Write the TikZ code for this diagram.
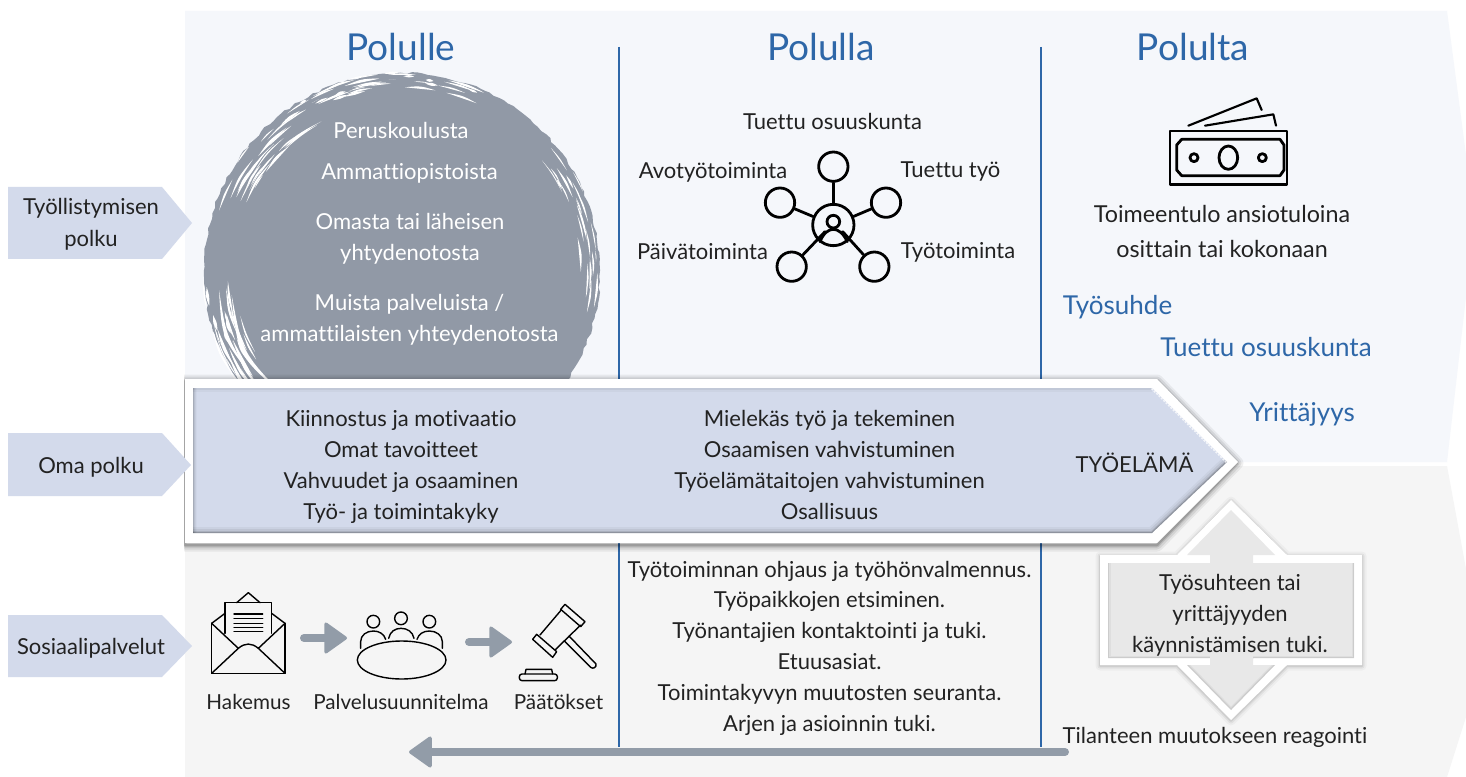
\documentclass[tikz,border=0pt]{standalone}
\usepackage{fontspec}
\setmainfont{Lato}[Ligatures=NoCommon]
\usetikzlibrary{arrows.meta,calc,decorations.pathmorphing,shadings}
\definecolor{bandblue}{HTML}{F5F7FB}
\definecolor{bandgray}{HTML}{F5F5F5}
\definecolor{tagblue}{HTML}{D3DAEB}
\definecolor{pathblue}{HTML}{2E67A8}
\definecolor{brush}{HTML}{9199A6}
\definecolor{arrowgray}{HTML}{929CA8}
\definecolor{ink}{HTML}{222222}
\newcommand{\tsize}[1]{\fontsize{#1}{23.1pt}\selectfont}
\newcommand{\lens}[4]{% radius, from angle, to angle, half thickness
  \pgfmathsetmacro{\mida}{(#2+#3)/2}
  \pgfmathsetmacro{\rp}{(#1+#4)/cos((#3-#2)/2)}
  \pgfmathsetmacro{\rm}{(#1-#4)/cos((#3-#2)/2)}
  \fill[white] ({402+#1*cos(#2)},{271-#1*sin(#2)}) .. controls ({402+\rp*cos(\mida)},{271-\rp*sin(\mida)}) .. ({402+#1*cos(#3)},{271-#1*sin(#3)}) .. controls ({402+\rm*cos(\mida)},{271-\rm*sin(\mida)}) .. cycle;}
\tikzset{
  txt/.style={text=ink,font=\tsize{16.5},align=center,inner sep=0pt},
  smalltxt/.style={text=ink,font=\tsize{15.5},align=center,inner sep=0pt},
  head/.style={text=pathblue,font=\tsize{27.8},inner sep=0pt},
  bluetxt/.style={text=pathblue,font=\tsize{19.5},inner sep=0pt},
  bigtxt/.style={text=ink,font=\fontsize{17.5}{26.2pt}\selectfont,align=center,inner sep=0pt},
  whitetxt/.style={text=white,font=\tsize{16.5},align=center,inner sep=0pt},
  flow/.style={draw=arrowgray,line width=6pt,line cap=round,
    -{Triangle[length=18pt,width=25pt,round,line width=2.5pt]}},
  icon/.style={draw=black,line width=1.05pt,line join=round,line cap=round},
  iconb/.style={draw=black,line width=2.1pt,line join=round,line cap=round},
  sat/.style={circle,draw=black,line width=2.1pt,minimum size=22pt,inner sep=0pt},
  tag/.style={fill=tagblue},
  vline/.style={draw=pathblue,line width=1.5pt},
  third/.style={x=0.25pt,y=-0.25pt},
}
\begin{document}
\begin{tikzpicture}[x=0.75pt,y=-0.75pt]
\useasboundingbox (0,0) rectangle (1466,777);
\fill[white] (0,0) rectangle (1466,777);
% bands
\fill[bandblue] (185,11)--(1447,11)--(1466,155)--(1466,297)--(1447,462)--(185,462)--cycle;
\fill[bandgray] (185,466)--(1447,466)--(1466,569)--(1466,717)--(1447,777)--(185,777)--cycle;
% columns
\coordinate (l1t) at (619,47); \coordinate (l1b) at (619,747);
\coordinate (l2t) at (1041,47); \coordinate (l2b) at (1041,747);
\draw[vline] (l1t)--(l1b);
\draw[vline] (l2t)--(l2b);
% brush disc
\pgfmathsetseed{42}
\fill[brush,decorate,decoration={random steps,segment length=4pt,amplitude=0.9pt}] (402,271) circle[radius=198];
% top flecks and tapered white strokes
\foreach \i in {1,...,34}{
  \pgfmathsetmacro{\ra}{65+rnd*55}\pgfmathsetmacro{\rr}{183+rnd*16}\pgfmathsetmacro{\rs}{2+rnd*9}\pgfmathsetmacro{\rw}{0.6+rnd*1.4}
  \pgfmathsetmacro{\rb}{\ra+\rs}
  \lens{\rr}{\ra}{\rb}{\rw}}
\foreach \i in {1,...,30}{
  \pgfmathsetmacro{\ra}{118+rnd*34}\pgfmathsetmacro{\rr}{168+rnd*30}\pgfmathsetmacro{\rs}{4+rnd*12}\pgfmathsetmacro{\rw}{0.5+rnd*1.3}
  \pgfmathsetmacro{\rb}{\ra+\rs}
  \lens{\rr}{\ra}{\rb}{\rw}}
\foreach \i in {1,...,26}{
  \pgfmathsetmacro{\ra}{-18+rnd*50}\pgfmathsetmacro{\rr}{178+rnd*20}\pgfmathsetmacro{\rs}{3+rnd*9}\pgfmathsetmacro{\rw}{0.5+rnd*1.1}
  \pgfmathsetmacro{\rb}{\ra+\rs}
  \lens{\rr}{\ra}{\rb}{\rw}}
\foreach \i in {1,...,30}{
  \pgfmathsetmacro{\ra}{182+rnd*32}\pgfmathsetmacro{\rr}{165+rnd*34}\pgfmathsetmacro{\rs}{4+rnd*12}\pgfmathsetmacro{\rw}{0.6+rnd*1.6}
  \pgfmathsetmacro{\rb}{\ra+\rs}
  \lens{\rr}{\ra}{\rb}{\rw}}
\lens{172}{188}{226}{2.6}
\lens{184}{186}{214}{2.2}
\lens{193}{205}{232}{3}
% brush text
\node[whitetxt] (t1) at (401,130) {Peruskoulusta};
\node[whitetxt] (t2) at (409.5,173) {Ammattiopistoista};
\node[whitetxt] (t3) at (410,239) {Omasta tai läheisen\\yhtydenotosta};
\node[whitetxt] (t4) at (409.5,320) {Muista palveluista /\\ammattilaisten yhteydenotosta};
% headings
\node[head] (h1) at (401,47.5) {Polulle};
\node[head] (h2) at (821,47.5) {Polulla};
\node[head] (h3) at (1193,47.5) {Polulta};
% main arrow shadow
\begin{scope}
\clip (184,300) rectangle (1300,600);
\foreach \w/\o in {13/.06,9/.08,5/.11,2.5/.16}
  \draw[black,opacity=\o,line width=\w*0.75pt,line join=round] (185,381)--(1157,381)--(1237,463)--(1157,545)--(185,545)--cycle;
\end{scope}
\fill[white] (185,379)--(1157,379)--(1238,462)--(1157,543)--(185,543)--cycle;
\fill[tagblue] (193,388)--(1152,388)--(1227,462)--(1152,533)--(193,533)--cycle;
\begin{scope}
\clip (193,388)--(1152,388)--(1227,462)--(1152,533)--(193,533)--cycle;
\foreach \w/\o in {8/.02,5/.04,3/.06,1.5/.10}
  \draw[black,opacity=\o,line width=\w*0.75pt] (193,388)--(193,533);
\foreach \w/\o in {12/.04,8/.06,4/.10,2/.16}
  \draw[black,opacity=\o,line width=\w*0.75pt] (193,533)--(1152,533)--(1227,462);
\foreach \w/\o in {8/.03,3/.05}
  \draw[black,opacity=\o,line width=\w*0.75pt] (193,388)--(1152,388);
\draw[white,opacity=.75,line width=2.2pt,dash pattern=on 1.5pt off 1pt] (1152,388)--(1227,462);
\end{scope}
% main arrow text
\node[txt] (a1) at (401,467) {Kiinnostus ja motivaatio\\Omat tavoitteet\\Vahvuudet ja osaaminen\\Työ- ja toimintakyky};
\node[txt] (a2) at (829.5,465) {Mielekäs työ ja tekeminen\\Osaamisen vahvistuminen\\Työelämätaitojen vahvistuminen\\Osallisuus};
\node[txt] (a3) at (1134.5,463) {TYÖELÄMÄ};
% left tags
\fill[tag] (8,187)--(162,187)--(192,223)--(162,259)--(8,259)--cycle;
\fill[tag] (8,433)--(162,433)--(191,465)--(162,496)--(8,496)--cycle;
\fill[tag] (8,615)--(162,615)--(192,646)--(162,677)--(8,677)--cycle;
\node[txt,font=\fontsize{16.5}{24pt}\selectfont] (g1) at (91,224) {Työllistymisen\\polku};
\node[txt] (g2) at (91,467) {Oma polku};
\node[txt] (g3) at (91,648) {Sosiaalipalvelut};
% network
\begin{scope}[shift={(630,100)},third]
\node[sat,minimum size=31pt] (nc) at (610,375) {};
\node[sat,minimum size=9.5pt] (np) at (610,365) {};
\node[sat] (n1) at (610,200) {};
\node[sat] (n2) at (450,308) {};
\node[sat] (n3) at (768,308) {};
\node[sat] (n4) at (485,500) {};
\node[sat] (n5) at (733,500) {};
\coordinate (b4) at (585,395); \coordinate (b5) at (638,395);
\draw[iconb] (n1)--(nc); \draw[iconb] (n2)--(nc); \draw[iconb] (n3)--(nc);
\draw[iconb] (n4)--(b4); \draw[iconb] (n5)--(b5);
\draw[iconb] (570,425) .. controls (580,400) and (595,388) .. (610,388) .. controls (625,388) and (640,400) .. (652,425);
\end{scope}
\node[txt] (m1) at (832.5,121) {Tuettu osuuskunta};
\node[txt] (m2) at (713,172) {Avotyötoiminta};
\node[txt] (m3) at (950.5,172) {Tuettu työ};
\node[txt] (m4) at (702.5,252) {Päivätoiminta};
\node[txt] (m5) at (958,252) {Työtoiminta};
% money
\begin{scope}[shift={(1140,85)},third]
\draw[iconb] (90,138) rectangle (441,298);
\draw[iconb] (125,163)--(420,163)--(432,180)--(432,255)--(420,272)--(125,272)--(110,255)--(110,180)--cycle;
\draw[iconb] (265,218) ellipse[x radius=28,y radius=35];
\draw[iconb] (162,218) circle[radius=12];
\draw[iconb] (367,218) circle[radius=12];
\draw[icon,line width=1.6pt] (145,122)--(350,40)--(365,75);
\draw[icon,line width=1.6pt] (195,122)--(400,88)--(408,122);
\end{scope}
\node[bigtxt] (r1) at (1222,231.5) {Toimeentulo ansiotuloina\\osittain tai kokonaan};
\node[bluetxt] (b1) at (1117.5,307) {Työsuhde};
\node[bluetxt] (b2) at (1266,347.5) {Tuettu osuuskunta};
\node[bluetxt] (b3) at (1302,414) {Yrittäjyys};
% double arrow box
\foreach \w/\o in {9/.03,5/.05,2/.08}
  \draw[black,opacity=\o,line width=\w*0.75pt,line join=round] (1100,556)--(1177,556)--(1231,501)--(1287,556)--(1362,556)--(1362,666)--(1287,666)--(1231,721)--(1177,666)--(1100,666)--cycle;
\fill[white] (1100,555)--(1177,555)--(1231,500)--(1287,555)--(1362,555)--(1362,665)--(1287,665)--(1231,720)--(1177,665)--(1100,665)--cycle;
\fill[black!9] (1108,563)--(1210,563)--(1210,555)--(1187,555)--(1231,510)--(1275,555)--(1253,555)--(1253,563)--(1354,563)--(1354,658)--(1253,658)--(1253,665)--(1275,665)--(1231,710)--(1187,665)--(1210,665)--(1210,658)--(1108,658)--cycle;
\begin{scope}
\clip (1108,563)--(1210,563)--(1210,555)--(1187,555)--(1231,510)--(1275,555)--(1253,555)--(1253,563)--(1354,563)--(1354,658)--(1253,658)--(1253,665)--(1275,665)--(1231,710)--(1187,665)--(1210,665)--(1210,658)--(1108,658)--cycle;
\foreach \w/\o in {5/.04,2.5/.08}{
  \draw[black,opacity=\o,line width=\w*0.75pt] (1108,563)--(1108,658)--(1210,658);
  \draw[black,opacity=\o,line width=\w*0.75pt] (1253,658)--(1354,658)--(1354,563);
  \draw[black,opacity=\o,line width=\w*0.75pt] (1187,665)--(1231,710)--(1275,665);
}
\end{scope}
\node[txt] (d1) at (1230,615) {Työsuhteen tai\\yrittäjyyden\\käynnistämisen tuki.};
\node[txt] (d2) at (1215,737) {Tilanteen muutokseen reagointi};
% bottom left icons
\begin{scope}[shift={(170,570)},third]
% envelope
\draw[icon] (125,160)--(125,310)--(345,310)--(345,160);
\draw[icon] (125,160)--(165,130); \draw[icon] (345,160)--(305,130);
\draw[icon] (200,98)--(235,68)--(270,98);
\draw[icon] (165,190)--(165,98)--(305,98)--(305,190);
\draw[icon] (125,160)--(205,235) .. controls (225,218) and (245,218) .. (265,235)--(345,160);
\draw[icon] (125,310)--(205,235); \draw[icon] (265,235)--(345,310);
\foreach \y in {132,146,160,172,185} \draw[icon] (192,\y)--(278,\y);
% meeting
\draw[icon] (610,155) circle[radius=19];
\draw[icon] (693,145) circle[radius=19];
\draw[icon] (778,155) circle[radius=19];
\draw[icon] (695,270) ellipse[x radius=133,y radius=57];
\draw[icon] (572,235)--(572,215) .. controls (572,195) and (590,183) .. (610,183) .. controls (628,183) and (642,192) .. (647,208);
\draw[icon] (656,205) .. controls (660,185) and (675,175) .. (693,175) .. controls (712,175) and (728,185) .. (732,205);
\draw[icon] (741,208) .. controls (746,192) and (760,183) .. (778,183) .. controls (798,183) and (817,195) .. (817,215)--(817,235);
% gavel
\draw[icon] (1185,103)--(1245,155)--(1232,170)--(1172,118)--cycle;
\draw[icon] (1100,193)--(1160,245)--(1148,262)--(1088,208)--cycle;
\draw[icon] (1172,122)--(1110,195); \draw[icon] (1232,165)--(1155,240);
\draw[icon] (1197,198)--(1278,282) .. controls (1280,292) and (1270,298) .. (1262,292)--(1182,212);
\draw[icon,rounded corners=2pt] (1048,312) rectangle (1162,332);
\draw[icon] (1065,312)--(1068,298)--(1145,298)--(1148,312);
\end{scope}
% flow arrows
\coordinate (f1a) at (304,638); \coordinate (f1b) at (347,638);
\coordinate (f2a) at (469,642); \coordinate (f2b) at (512,642);
\coordinate (f3a) at (1065,752); \coordinate (f3b) at (409,752);
\draw[flow] (f1a)--(f1b);
\draw[flow] (f2a)--(f2b);
\draw[flow] (f3a)--(f3b);
\node[smalltxt] (c1) at (248.5,702) {Hakemus};
\node[smalltxt] (c2) at (401,702) {Palvelusuunnitelma};
\node[smalltxt] (c3) at (558.5,702) {Päätökset};
\node[txt] (c4) at (829.5,648) {Työtoiminnan ohjaus ja työhönvalmennus.\\Työpaikkojen etsiminen.\\Työnantajien kontaktointi ja tuki.\\Etuusasiat.\\Toimintakyvyn muutosten seuranta.\\Arjen ja asioinnin tuki.};
\end{tikzpicture}
\end{document}
